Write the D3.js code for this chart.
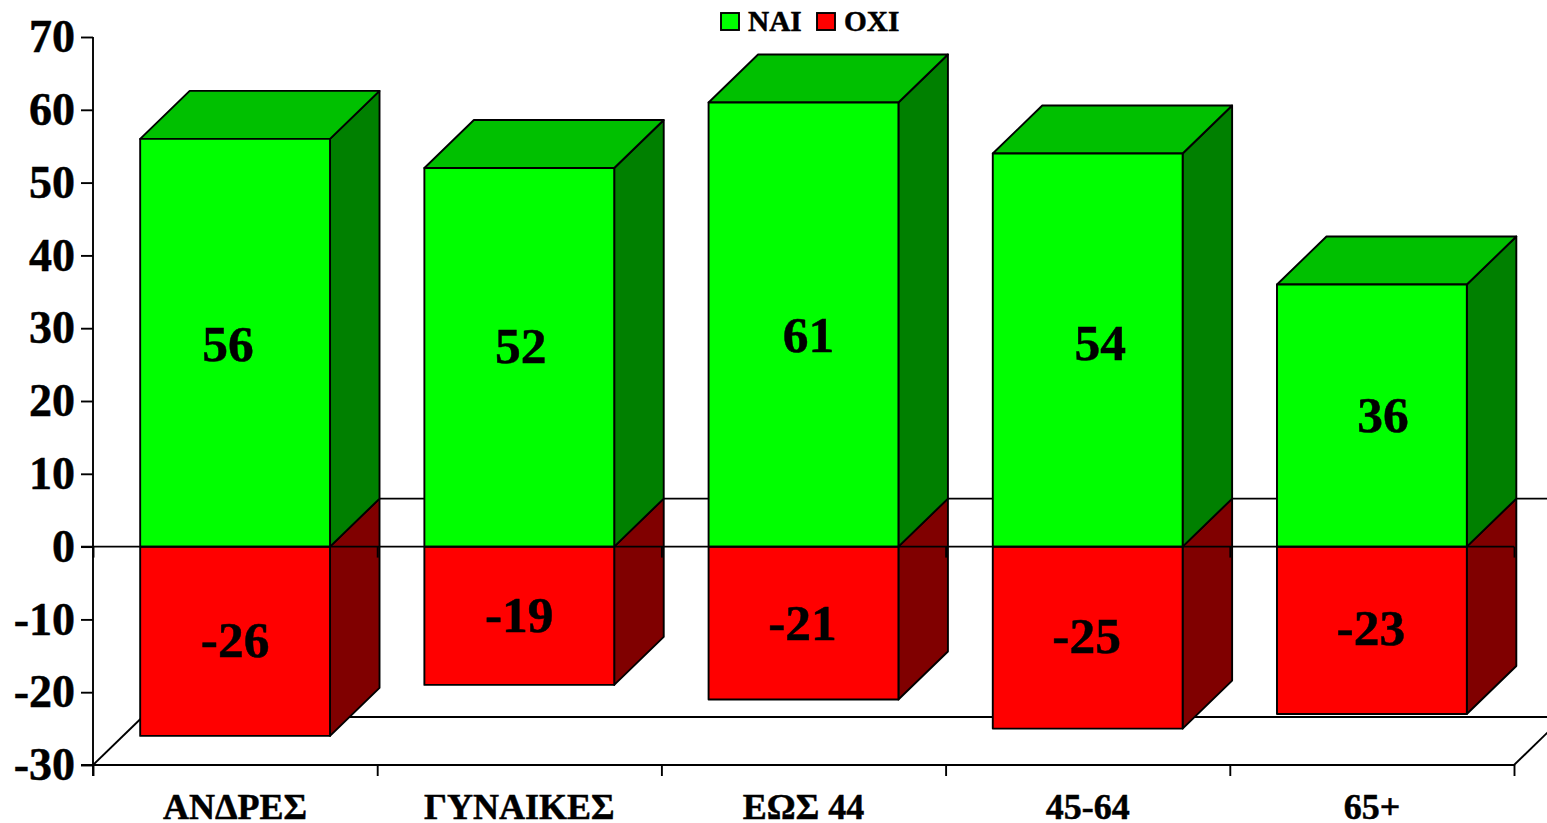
<!DOCTYPE html>
<html><head><meta charset="utf-8">
<script src="https://cdn.jsdelivr.net/npm/d3@7/dist/d3.min.js"></script>
<style>html,body{margin:0;padding:0;background:#fff;overflow:hidden}svg{display:block}
text{font-family:"Liberation Serif","Times New Roman",serif;font-weight:bold;fill:#000;stroke:#000;stroke-width:0.5px}</style>
</head><body><svg id="c" width="1547" height="823"></svg>
<script>
const categories = ["ΑΝΔΡΕΣ","ΓΥΝΑΙΚΕΣ","ΕΩΣ 44","45-64","65+"];
const yes = [56,52,61,54,36];
const no = [-26,-19,-21,-25,-23];
const seriesNames = ["ΝΑΙ","ΟΧΙ"];
const yTicks = [-30,-20,-10,0,10,20,30,40,50,60,70];
// label nudges (px) relative to the centre of each front face, as placed in the reference
const yesNudge = [[-7,1],[1.5,-11],[5,10],[12.5,-7],[11,-1]];
const noNudge = [[0,-1],[0,-1],[-1,0],[-1,-2],[-1,-2]];

const L=93,R=1514,T=37,B=765,DX=49.5,DY=-48,SW=1.9;
const svg=d3.select("#c");
const x=d3.scaleBand().domain(categories).range([L,R]).paddingInner(0.332).paddingOuter(0.166);
const xEdge=d3.scaleLinear().domain([0,categories.length]).range([L,R]);
const y=d3.scaleLinear().domain([-30,70]).range([B,T]);
const line=(x1,y1,x2,y2,w=SW)=>svg.append("line").attr("x1",x1).attr("y1",y1).attr("x2",x2).attr("y2",y2).attr("stroke","#000").attr("stroke-width",w);

// floor and back wall
line(L,B,L+DX,B+DY);
line(R,B,R+DX,B+DY);
line(L+DX,B+DY,1547,B+DY);
line(L+DX,y(0)+DY,1547,y(0)+DY);

const pts=a=>a.map(p=>p.join(",")).join(" ");
const drawBar=(c,v,front,side,top)=>{
  const x0=x(c),x1=x0+x.bandwidth(),y0=y(0),yv=y(v);
  const poly=(p,f)=>svg.append("polygon").attr("points",pts(p)).attr("fill",f).attr("stroke","#000").attr("stroke-width",SW).attr("stroke-linejoin","round");
  poly([[x1,Math.min(y0,yv)],[x1+DX,Math.min(y0,yv)+DY],[x1+DX,Math.max(y0,yv)+DY],[x1,Math.max(y0,yv)]],side);
  if(top) poly([[x0,yv],[x0+DX,yv+DY],[x1+DX,yv+DY],[x1,yv]],top);
  poly([[x0,Math.min(y0,yv)],[x1,Math.min(y0,yv)],[x1,Math.max(y0,yv)],[x0,Math.max(y0,yv)]],front);
};
categories.forEach((c,i)=>{
  drawBar(c,no[i],"#ff0000","#800000",null);
  drawBar(c,yes[i],"#00ff00","#008000","#00c000");
});

// axes
const yAxis=d3.axisLeft(y).tickValues(yTicks).tickFormat(String).tickSize(12).tickPadding(6).tickSizeOuter(0);
const gy=svg.append("g").attr("transform",`translate(${L},0)`).call(yAxis);
gy.selectAll("text").style("font-size","46px").attr("dy","0.32em");
gy.selectAll("line,path").attr("stroke","#000").attr("stroke-width",SW);
gy.select("path").attr("d",`M0,${T}V${B+11}`);

const xTickAxis=d3.axisBottom(xEdge).tickValues(d3.range(categories.length+1)).tickFormat("").tickSize(11).tickSizeOuter(0);
[y(0),B].forEach(p=>{
  const g=svg.append("g").attr("transform",`translate(0,${p})`).call(xTickAxis);
  g.selectAll("line,path").attr("stroke","#000").attr("stroke-width",SW);
  g.select("path").attr("d",`M${L-12},0H${R}`);
});

svg.append("g").selectAll("text").data(categories).join("text")
  .attr("x",d=>x(d)+x.bandwidth()/2).attr("y",819).attr("text-anchor","middle").style("font-size","36px").text(d=>d);

// value labels
const label=(v,i,n)=>svg.append("text")
  .attr("x",x(categories[i])+x.bandwidth()/2+n[i][0])
  .attr("y",(y(0)+y(v))/2+n[i][1]).attr("dy","0.33em").attr("text-anchor","middle")
  .style("font-size","51.5px").text(v);
yes.forEach((v,i)=>label(v,i,yesNudge));
no.forEach((v,i)=>label(v,i,noNudge));

// legend
const leg=[[721,"#00ff00",748],[817,"#ff0000",844]];
leg.forEach((l,i)=>{
  svg.append("rect").attr("x",l[0]).attr("y",13).attr("width",18).attr("height",17).attr("fill",l[1]).attr("stroke","#000").attr("stroke-width",SW);
  svg.append("text").attr("x",l[2]).attr("y",31).style("font-size","29.3px").text(seriesNames[i]);
});
</script></body></html>
